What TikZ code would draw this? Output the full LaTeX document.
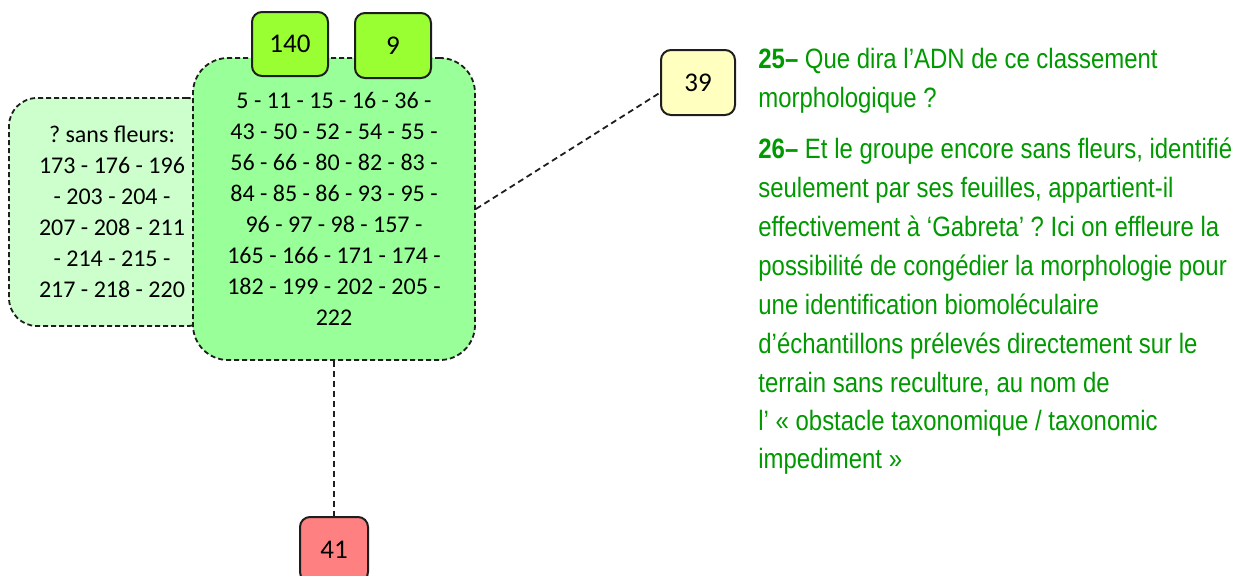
\documentclass[tikz,border=0pt]{standalone}
\usepackage{fontspec}
\setmainfont{Carlito}
\newfontfamily\qfont{Liberation Sans}[FakeStretch=0.855]
\definecolor{mainfill}{RGB}{153,255,153}
\definecolor{leftfill}{RGB}{204,255,204}
\definecolor{topfill}{RGB}{153,255,51}
\definecolor{yelfill}{RGB}{255,255,192}
\definecolor{redfill}{RGB}{255,128,128}
\definecolor{qgreen}{RGB}{0,153,0}
\definecolor{edge}{RGB}{30,30,30}
\frenchspacing
\tikzset{
  dbox/.style={draw=edge, dash pattern=on 2.5pt off 1.5pt, line width=0.9pt,
    inner sep=0pt, align=center, font=\fontsize{12}{15.5}\selectfont},
  sbox/.style={draw=edge, line width=1pt, rounded corners=5pt, inner sep=0pt,
    font=\fontsize{13.5}{15}\selectfont},
  conn/.style={draw=edge, dash pattern=on 3pt off 2pt, line width=0.9pt},
  qline/.style={anchor=base west, inner sep=0pt, text=qgreen,
    font=\qfont\fontsize{14}{19}\selectfont}
}
\begin{document}
\begin{tikzpicture}[x=0.5pt,y=-0.5pt]
\useasboundingbox (0,0) rectangle (1244,575);
\clip (0,0) rectangle (1244,575);
% left box (behind)
\node[dbox, fill=leftfill, rounded corners=14pt, minimum width=103pt, minimum height=114pt] (left) at (112,212)
  {? sans fleurs:\\173 - 176 - 196\\- 203 - 204 -\\207 - 208 - 211\\- 214 - 215 -\\217 - 218 - 220};
% main box
\node[dbox, fill=mainfill, rounded corners=17.5pt, minimum width=141pt, minimum height=151pt] (main) at (334,209)
  {5 - 11 - 15 - 16 - 36 -\\43 - 50 - 52 - 54 - 55 -\\56 - 66 - 80 - 82 - 83 -\\84 - 85 - 86 - 93 - 95 -\\96 - 97 - 98 - 157 -\\165 - 166 - 171 - 174 -\\182 - 199 - 202 - 205 -\\222};
% small boxes
\node[sbox, fill=topfill, minimum width=38pt, minimum height=32pt] (n140) at (290,44) {140};
\node[sbox, fill=topfill, minimum width=38pt, minimum height=32.5pt] (n9) at (393,45.5) {9};
\node[sbox, fill=yelfill, minimum width=37pt, minimum height=32.5pt] (n39) at (698,82.5) {39};
\node[sbox, fill=redfill, minimum width=34pt, minimum height=32.5pt] (n41) at (334,549.5) {41};
% connectors
\draw[conn] (main.east) -- (n39.195);
\draw[conn] (main.south) -- (n41.north);
% questions
\node[qline] (t1) at (758,68) {\textbf{25–} Que dira l’ADN de ce classement};
\node[qline] (t2) at (758,107) {morphologique ?};
\node[qline] (t3) at (758,158) {\textbf{26–} Et le groupe encore sans fleurs, identifié};
\node[qline] (t4) at (758,197) {seulement par ses feuilles, appartient-il};
\node[qline] (t5) at (758,236) {effectivement à ‘Gabreta’ ? Ici on effleure la};
\node[qline] (t6) at (758,275) {possibilité de congédier la morphologie pour};
\node[qline] (t7) at (758,314) {une identification biomoléculaire};
\node[qline] (t8) at (758,353) {d’échantillons prélevés directement sur le};
\node[qline] (t9) at (758,392) {terrain sans reculture, au nom de};
\node[qline] (t10) at (758,430) {l’ « obstacle taxonomique / taxonomic};
\node[qline] (t11) at (758,468) {impediment »};
\end{tikzpicture}
\end{document}
